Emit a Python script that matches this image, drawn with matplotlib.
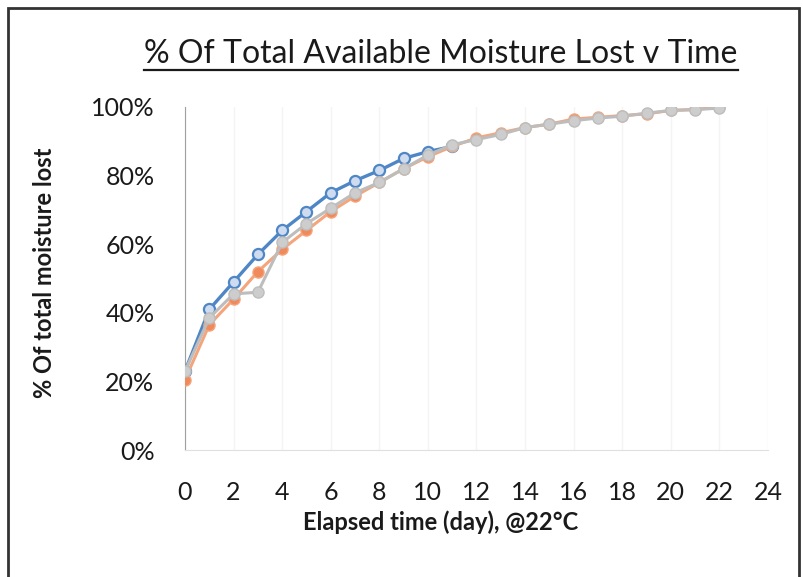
import matplotlib.pyplot as plt
from matplotlib.patches import Rectangle
from matplotlib.lines import Line2D
from matplotlib.ticker import PercentFormatter

plt.rcParams['font.family'] = ['Lato', 'DejaVu Sans']

# values (fraction of total moisture lost)
days_blue = list(range(0, 12))
blue = [0.23, 0.41, 0.49, 0.57, 0.64, 0.695, 0.75, 0.785, 0.815, 0.85, 0.87, 0.885]

days = list(range(0, 23))
orange = [0.205, 0.365, 0.44, 0.52, 0.585, 0.64, 0.695, 0.74, 0.78, 0.82, 0.855,
          0.885, 0.91, 0.925, 0.94, 0.95, 0.965, 0.97, 0.975, 0.98, 0.99, 0.993, 1.0]
grey = [0.23, 0.385, 0.455, 0.46, 0.605, 0.66, 0.705, 0.75, 0.78, 0.82, 0.86,
        0.89, 0.905, 0.92, 0.94, 0.95, 0.96, 0.968, 0.973, 0.982, 0.99, 0.992, 0.997]

x_ticks = list(range(0, 25, 2))
y_ticks = [0, 0.2, 0.4, 0.6, 0.8, 1.0]

W, H = 804, 577
fig = plt.figure(figsize=(W / 100, H / 100), dpi=100)
ax = fig.add_axes([185 / W, 1 - 450 / H, (768 - 185) / W, (450 - 107) / H])

ax.plot(days_blue, blue, color='#4f86c6', lw=2.4, marker='o', ms=8,
        mfc='#cfdcef', mec='#4f86c6', mew=1.6, zorder=3)
ax.plot(days, orange, color='#f4a57c', lw=2.2, marker='o', ms=8,
        mfc='#f08a5d', mec='#f4a57c', mew=1.0, zorder=4)
ax.plot(days, grey, color='#bdbdbd', lw=2.2, marker='o', ms=8,
        mfc='#cdcdcd', mec='#bdbdbd', mew=1.0, zorder=5)

ax.set_xlim(0, 24)
ax.set_ylim(0, 1.0)
ax.set_xticks(x_ticks)
ax.set_yticks(y_ticks)
ax.yaxis.set_major_formatter(PercentFormatter(1.0, decimals=0))
ax.tick_params(length=0, labelsize=18, colors='#1a1a1a')
ax.tick_params(axis='x', pad=22)
ax.tick_params(axis='y', pad=22)
for s in ['top', 'right']:
    ax.spines[s].set_visible(False)
ax.spines['left'].set_color('#a0a0a0')
ax.spines['bottom'].set_color('#e0e0e0')
ax.grid(axis='x', color='#f4f4f4', lw=1)
ax.set_axisbelow(True)

fig.text(441 / W, 1 - 522 / H, 'Elapsed time (day), @22°C', ha='center', va='center',
         fontsize=17, fontweight='bold', color='#1a1a1a')
fig.text(45 / W, 1 - 273 / H, '% Of total moisture lost', ha='center', va='center',
         rotation=90, fontsize=17, fontweight='bold', color='#1a1a1a')
title = fig.text(441 / W, 1 - 54 / H, '% Of Total Available Moisture Lost v Time',
                 ha='center', va='center', fontsize=23, color='#1a1a1a')

# underline under the title
fig.canvas.draw()
bb = title.get_window_extent()
yline = bb.y0 - 1
fig.add_artist(Line2D([bb.x0 / W, bb.x1 / W], [yline / H, yline / H],
                      transform=fig.transFigure, color='#1a1a1a', lw=1.6))

# border round the chart
fig.add_artist(Rectangle((8 / W, -0.01), (799 - 8) / W, (H - 8) / H + 0.01,
                         transform=fig.transFigure, fill=False, ec='#333333', lw=2))

fig.savefig('out.png', dpi=100)
